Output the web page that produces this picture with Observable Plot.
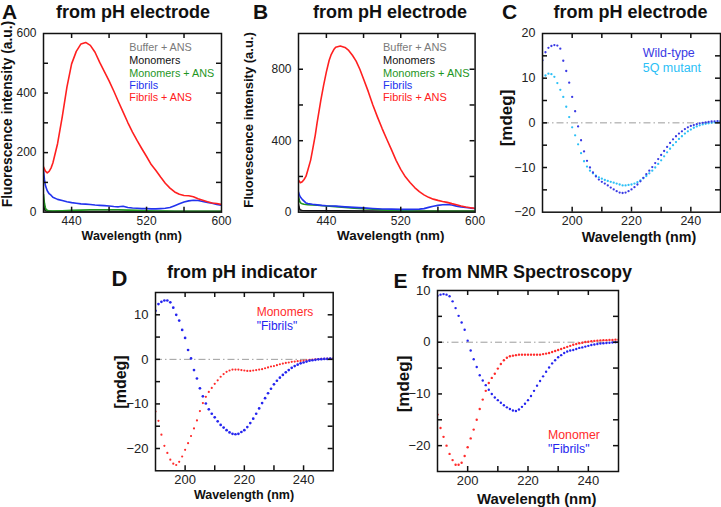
<!DOCTYPE html>
<html><head><meta charset="utf-8">
<script src="https://cdn.jsdelivr.net/npm/d3@7"></script>
<script src="https://cdn.jsdelivr.net/npm/@observablehq/plot@0.6"></script>
<style>
body{margin:0;background:#fff;}
#fig{position:relative;width:721px;height:507px;overflow:hidden;font-family:"Liberation Sans",Arial,Helvetica,sans-serif;background:#fff;}
#fig svg{position:absolute;overflow:visible;}
.t{position:absolute;white-space:nowrap;line-height:1;}
</style></head><body><div id="fig"></div>
<script>
// ---------- Panel A data (fluorescence, nm vs a.u.) ----------
const aRedNm = [410,412,414,416,418,420,425,430,435,440,445,450,455,460,465,470,475,480,485,490,495,500,505,510,515,520,525,530,535,540,545,550,555,560,565,570,575,580,585,590,595,600];
const aRedVal = [152,138,132,137,148,165,230,320,420,498,540,565,570,560,537,503,472,441,407,371,336,301,269,240,213,187,160,140,118,97,81,68,60,56,55,52,45,40,35,31,29,26];
const aBlueNm = [410,411,412,414,416,418,420,425,430,435,440,445,450,455,460,465,470,475,480,485,490,495,500,505,510,515,520,525,530,535,540,545,550,555,560,565,570,575,580,585,590,595,600];
const aBlueVal = [140,110,90,72,62,57,50,43,39,35,32,30,28,27,26,24,23,22,21,19,18,20,16,14,13,12,12,11,11,12,13,16,22,28,34,38,40,39,36,33,30,26,23];
const aGreenNm = [410,411,412,413,415,420,430,440,450,460,470,480,490,500,510,520,530,540,550,560,570,580,590,600];
const aGreenVal = [60,30,15,8,5,4,5,6,7,8,8,8,8,7,6,5,4,4,3,3,3,3,3,3];
const aBlackNm = [410,411,412,414,420,450,500,550,600];
const aBlackVal = [30,12,5,3,2,2,2,2,2];
const aGrayNm = [410,411,412,415,450,500,550,600];
const aGrayVal = [20,8,4,3,3,3,3,3];

// ---------- Panel B data ----------
const bRedNm = [410,412,414,416,418,420,423,425,428,430,434,437,440,443,445,448,450,455,460,464,468,472,476,480,485,490,495,500,505,510,515,520,525,530,535,540,545,550,555,560,565,570,575,580,585,590,595,600];
const bRedVal = [179,165,170,183,200,235,290,345,430,500,626,710,785,850,880,910,923,930,922,905,878,845,800,745,676,600,532,468,408,350,290,240,198,166,138,115,97,83,73,66,60,55,48,42,35,29,25,21];
const bBlueNm = [410,411,412,414,416,418,420,425,430,435,440,450,460,470,480,490,500,510,520,530,540,545,550,555,560,565,570,575,580,585,590,595,600];
const bBlueVal = [113,95,85,72,62,52,48,44,41,38,36,34,30,27,24,21,18,17,16,16,17,20,27,33,38,42,43,40,34,29,26,23,21];
const bGreenNm = [410,411,412,414,416,420,425,430,440,450,460,470,480,490,500,510,520,530,540,550,560,570,580,590,600];
const bGreenVal = [85,65,52,47,44,42,40,39,35,31,27,23,20,17,13,10,8,6,5,5,5,5,5,5,5];
const bBlackNm = [410,411,412,414,420,450,500,550,600];
const bBlackVal = [45,20,12,10,9,8,6,5,5];
const bGrayNm = [410,411,412,415,450,500,550,600];
const bGrayVal = [30,12,8,6,6,5,5,5];

const fluoSeries = ["Buffer + ANS","Monomers","Monomers + ANS","Fibrils","Fibrils + ANS"];

// ---------- CD data (190..250 nm) ----------
const cdNm = [190,191,192,193,194,195,196,197,198,199,200,201,202,203,204,205,206,207,208,209,210,211,212,213,214,215,216,217,218,219,220,221,222,223,224,225,226,227,228,229,230,231,232,233,234,235,236,237,238,239,240,241,242,243,244,245,246,247,248,249,250];
const cWild = [14.0,15.8,16.8,17.2,17.4,17.3,16.6,13.9,11.6,9.0,5.8,2.6,-0.8,-3.9,-6.4,-8.5,-10.0,-11.1,-12.0,-12.7,-13.2,-13.6,-14.0,-14.5,-14.9,-15.3,-15.6,-15.7,-15.6,-15.3,-14.9,-14.4,-13.8,-13.1,-12.3,-11.5,-10.7,-9.9,-9.0,-8.1,-7.2,-6.3,-5.4,-4.5,-3.7,-3.0,-2.4,-1.9,-1.4,-1.0,-0.7,-0.5,-0.3,-0.1,0.0,0.1,0.2,0.3,0.35,0.4,0.4];
const c5Q = [9.9,10.6,11.0,10.9,10.3,8.9,7.4,5.8,3.6,1.3,-1.0,-2.8,-4.8,-6.8,-8.6,-9.8,-10.7,-11.3,-11.8,-12.2,-12.5,-12.8,-13.0,-13.2,-13.4,-13.6,-13.8,-14.0,-14.0,-13.9,-13.8,-13.6,-13.3,-12.9,-12.4,-11.9,-11.3,-10.7,-10.0,-9.2,-8.4,-7.5,-6.6,-5.8,-5.0,-4.3,-3.6,-3.0,-2.4,-1.9,-1.5,-1.1,-0.8,-0.55,-0.35,-0.2,-0.1,0.0,0.1,0.15,0.2];
const dFibrils = [10.9,12.4,12.9,13.2,13.2,12.8,11.6,10.0,8.7,6.6,4.8,2.1,0.2,-2.4,-4.3,-6.5,-8.3,-9.9,-11.2,-12.2,-13.0,-13.9,-14.7,-15.3,-15.9,-16.4,-16.7,-16.8,-16.7,-16.3,-15.9,-15.2,-14.3,-13.3,-12.2,-11.0,-9.8,-8.7,-7.6,-6.6,-5.6,-4.8,-4.1,-3.5,-2.9,-2.4,-1.9,-1.5,-1.2,-0.9,-0.7,-0.5,-0.3,-0.2,-0.1,0.0,0.05,0.1,0.1,0.15,0.15];
const dMonomers = [-11.7,-13.8,-16.9,-19.4,-21.0,-22.5,-23.4,-23.7,-23.0,-21.8,-20.3,-18.8,-17.2,-15.5,-13.7,-11.6,-9.8,-8.4,-7.3,-6.4,-5.5,-4.7,-3.9,-3.3,-2.8,-2.5,-2.3,-2.3,-2.3,-2.4,-2.5,-2.6,-2.6,-2.5,-2.4,-2.3,-2.2,-2.0,-1.8,-1.6,-1.5,-1.3,-1.1,-0.95,-0.8,-0.7,-0.55,-0.5,-0.4,-0.35,-0.3,-0.2,-0.1,-0.05,0,0.05,0.1,0.1,0.15,0.15,0.15];
const eFibrils = [9.0,9.2,9.3,9.2,8.9,7.9,6.6,5.1,3.8,2.4,0.3,-1.6,-3.3,-4.8,-6.4,-7.4,-8.3,-9.2,-10.0,-10.7,-11.2,-11.7,-12.2,-12.6,-12.9,-13.2,-13.3,-13.0,-12.5,-11.9,-11.2,-10.4,-9.4,-8.4,-7.5,-6.6,-5.7,-4.9,-4.1,-3.5,-2.9,-2.5,-2.1,-1.8,-1.6,-1.5,-1.3,-1.1,-1.0,-0.85,-0.7,-0.55,-0.45,-0.35,-0.25,-0.2,-0.15,-0.1,-0.05,0,0];
const eMonomer = [-14.0,-16.6,-18.3,-20.0,-21.6,-22.8,-23.7,-23.7,-23.3,-22.0,-20.3,-18.6,-16.9,-15.0,-12.9,-11.1,-9.4,-7.9,-6.9,-6.1,-5.1,-4.2,-3.5,-3.0,-2.7,-2.6,-2.5,-2.4,-2.4,-2.4,-2.4,-2.4,-2.4,-2.4,-2.4,-2.3,-2.2,-2.1,-1.9,-1.7,-1.5,-1.3,-1.1,-0.9,-0.7,-0.5,-0.35,-0.2,-0.1,0.05,0.1,0.2,0.25,0.3,0.35,0.4,0.4,0.45,0.45,0.5,0.5];

// ---------- tick values ----------
const fluoXTicks = [440,480,520,560];
const fluoXLabels = [440,520,600];
const aYTicks = [100,200,300,400,500];
const aYLabels = [0,200,400,600];
const bYTicks = [200,400,600,800];
const bYLabels = [0,400,800];
const cdXTicks = [200,210,220,230,240];
const cdXLabels = [200,220,240];
const cYTicks = [-15,-10,-5,0,5,10,15];
const cYLabels = [-20,-10,0,10,20];
const dYTicks = [-20,-15,-10,-5,0,5,10];
const dYLabels = [-20,-10,0,10];
const eYTicks = [-20,-15,-10,-5,0,5];
const eYLabels = [-20,-10,0,10];

// ---------- colours ----------
const colGray = "#7a7a7a", colBlack = "#111111", colGreen = "#1e961e", colBlue = "#2233ee", colRed = "#ff2020";
const colWild = "#3a3ae4", col5Q = "#2cc0f6";
const cdBlue = "#2525ef", cdRed = "#ff2b2b";

const fig = document.getElementById("fig");
const zip = (xs, ys) => xs.map((x, i) => ({x, y: ys[i]}));

function txt(s, x, y, o = {}) {
  const d = document.createElement("div");
  d.className = "t";
  d.textContent = s;
  d.style.fontSize = (o.size || 12) + "px";
  d.style.fontWeight = o.bold ? "bold" : "normal";
  d.style.color = o.color || "#111";
  d.style.left = x + "px";
  d.style.top = y + "px";
  const tx = o.anchor === "start" ? "0" : "-50%";
  d.style.transform = `translate(${tx},-50%)` + (o.rotate ? ` rotate(${o.rotate}deg)` : "");
  fig.appendChild(d);
}

function panel(cfg) {
  const mL = 40, mR = 8, mT = 8, mB = 26, tl = 5;
  const pw = cfg.box.r - cfg.box.l, ph = cfg.box.b - cfg.box.t;
  const tickStyle = {stroke: "#111", strokeWidth: 1.5};
  const svg = Plot.plot({
    width: pw + mL + mR, height: ph + mT + mB,
    marginLeft: mL, marginRight: mR, marginTop: mT, marginBottom: mB,
    x: {domain: cfg.xDomain}, y: {domain: cfg.yDomain},
    style: {fontFamily: '"Liberation Sans", Arial, sans-serif', fontSize: cfg.tickFont + "px", color: "#222", background: "transparent", overflow: "visible"},
    marks: [
      ...cfg.marks,
      Plot.tickX(cfg.xTicks, {x: d => d, insetTop: ph - tl, ...tickStyle}),
      Plot.tickX(cfg.xTicks, {x: d => d, insetBottom: ph - tl, ...tickStyle}),
      Plot.tickY(cfg.yTicks, {y: d => d, insetRight: pw - tl, ...tickStyle}),
      Plot.tickY(cfg.yTicks, {y: d => d, insetLeft: pw - tl, ...tickStyle}),
      Plot.axisX(cfg.xLabels, {tickSize: 0, tickPadding: 4, label: null}),
      Plot.axisY(cfg.yLabels, {tickSize: 0, tickPadding: 7, label: null}),
      Plot.frame({stroke: "#111", strokeWidth: 1.5})
    ]
  });
  svg.style.left = (cfg.box.l - mL) + "px";
  svg.style.top = (cfg.box.t - mT) + "px";
  fig.appendChild(svg);
}

const ln = (xs, ys, c, w = 1.6) => Plot.line(zip(xs, ys), {x: "x", y: "y", stroke: c, strokeWidth: w, clip: true});
const dt = (ys, c, r = 1.15) => Plot.dot(zip(cdNm, ys), {x: "x", y: "y", r, fill: c, stroke: "none", clip: true});
const zero = () => Plot.ruleY([0], {stroke: "#9c9c9c", strokeWidth: 1, strokeDasharray: "7,3,1.5,3"});

// Panel A
panel({box: {l: 42.7, r: 220.7, t: 33.3, b: 212}, xDomain: [410, 600], yDomain: [0, 600], tickFont: 12,
  xTicks: fluoXTicks, xLabels: fluoXLabels, yTicks: aYTicks, yLabels: aYLabels,
  marks: [ln(aGrayNm, aGrayVal, colGray, 2.2), ln(aBlackNm, aBlackVal, colBlack, 1.4), ln(aGreenNm, aGreenVal, colGreen, 1.6), ln(aBlueNm, aBlueVal, colBlue), ln(aRedNm, aRedVal, colRed)]});
// Panel B
panel({box: {l: 297.7, r: 474.3, t: 33.3, b: 212}, xDomain: [410, 600], yDomain: [0, 1000], tickFont: 12,
  xTicks: fluoXTicks, xLabels: fluoXLabels, yTicks: bYTicks, yLabels: bYLabels,
  marks: [ln(bGrayNm, bGrayVal, colGray, 2.2), ln(bBlackNm, bBlackVal, colBlack, 1.4), ln(bGreenNm, bGreenVal, colGreen, 1.6), ln(bBlueNm, bBlueVal, colBlue), ln(bRedNm, bRedVal, colRed)]});
// Panel C
panel({box: {l: 542, r: 720, t: 33.3, b: 212}, xDomain: [190, 250], yDomain: [-20, 20], tickFont: 12.5,
  xTicks: cdXTicks, xLabels: cdXLabels, yTicks: cYTicks, yLabels: cYLabels,
  marks: [zero(), dt(c5Q, col5Q), dt(cWild, colWild)]});
// Panel D
panel({box: {l: 155, r: 332.7, t: 291.7, b: 470}, xDomain: [190, 250], yDomain: [-25, 15], tickFont: 13,
  xTicks: cdXTicks, xLabels: cdXLabels, yTicks: dYTicks, yLabels: dYLabels,
  marks: [zero(), dt(dMonomers, cdRed, 1.1), dt(dFibrils, cdBlue, 1.35)]});
// Panel E
panel({box: {l: 437, r: 618, t: 290, b: 471}, xDomain: [190, 250], yDomain: [-25, 10], tickFont: 13,
  xTicks: cdXTicks, xLabels: cdXLabels, yTicks: eYTicks, yLabels: eYLabels,
  marks: [zero(), dt(eMonomer, cdRed, 1.2), dt(eFibrils, cdBlue, 1.2)]});

// Panel letters and titles
txt("A", 9.5, 10.5, {size: 21, bold: true});
txt("B", 260.5, 10.5, {size: 21, bold: true});
txt("C", 509.5, 10.5, {size: 21, bold: true});
txt("D", 119.5, 278.5, {size: 22, bold: true});
txt("E", 400.5, 279.5, {size: 21, bold: true});
txt("from pH electrode", 133, 12, {size: 18, bold: true});
txt("from pH electrode", 390, 12, {size: 18, bold: true});
txt("from pH electrode", 630.5, 12, {size: 18, bold: true});
txt("from pH indicator", 242, 271.5, {size: 18, bold: true});
txt("from NMR Spectroscopy", 527, 271.5, {size: 18, bold: true});

// Axis titles
txt("Fluorescence intensity (a.u.)", 8, 114, {size: 13.8, bold: true, rotate: -90});
txt("Fluorescence intensity (a.u.)", 248, 120, {size: 13, bold: true, rotate: -90});
txt("[mdeg]", 506, 117.5, {size: 17, bold: true, rotate: -90});
txt("[mdeg]", 120.5, 381.5, {size: 16, bold: true, rotate: -90});
txt("[mdeg]", 402.5, 384, {size: 17, bold: true, rotate: -90});
txt("Wavelength (nm)", 131.7, 235.7, {size: 12.5, bold: true});
txt("Wavelength (nm)", 390.8, 235.7, {size: 13.4, bold: true});
txt("Wavelength (nm)", 639, 236.7, {size: 14.3, bold: true});
txt("Wavelength (nm)", 244, 495, {size: 12.5, bold: true});
txt("Wavelength (nm)", 536.7, 499.3, {size: 14.9, bold: true});

// Legends
const fluoColors = [colGray, colBlack, colGreen, colBlue, colRed];
const legY = [46.7, 60, 72.5, 84.5, 97.2];
fluoSeries.forEach((s, i) => {
  txt(s, 129.3, legY[i], {size: 10.8, color: fluoColors[i], anchor: "start"});
  txt(s, 383, legY[i], {size: 11, color: fluoColors[i], anchor: "start"});
});
txt("Wild-type", 642.7, 53, {size: 12.5, color: colWild, anchor: "start"});
txt("5Q mutant", 642.7, 68, {size: 12.5, color: col5Q, anchor: "start"});
txt("Monomers", 256.7, 311.7, {size: 12, color: cdRed, anchor: "start"});
txt("\"Fibrils\"", 256.7, 326, {size: 12, color: cdBlue, anchor: "start"});
txt("Monomer", 548, 434.6, {size: 12.3, color: cdRed, anchor: "start"});
txt("\"Fibrils\"", 548, 448.8, {size: 12.3, color: cdBlue, anchor: "start"});
</script></body></html>
